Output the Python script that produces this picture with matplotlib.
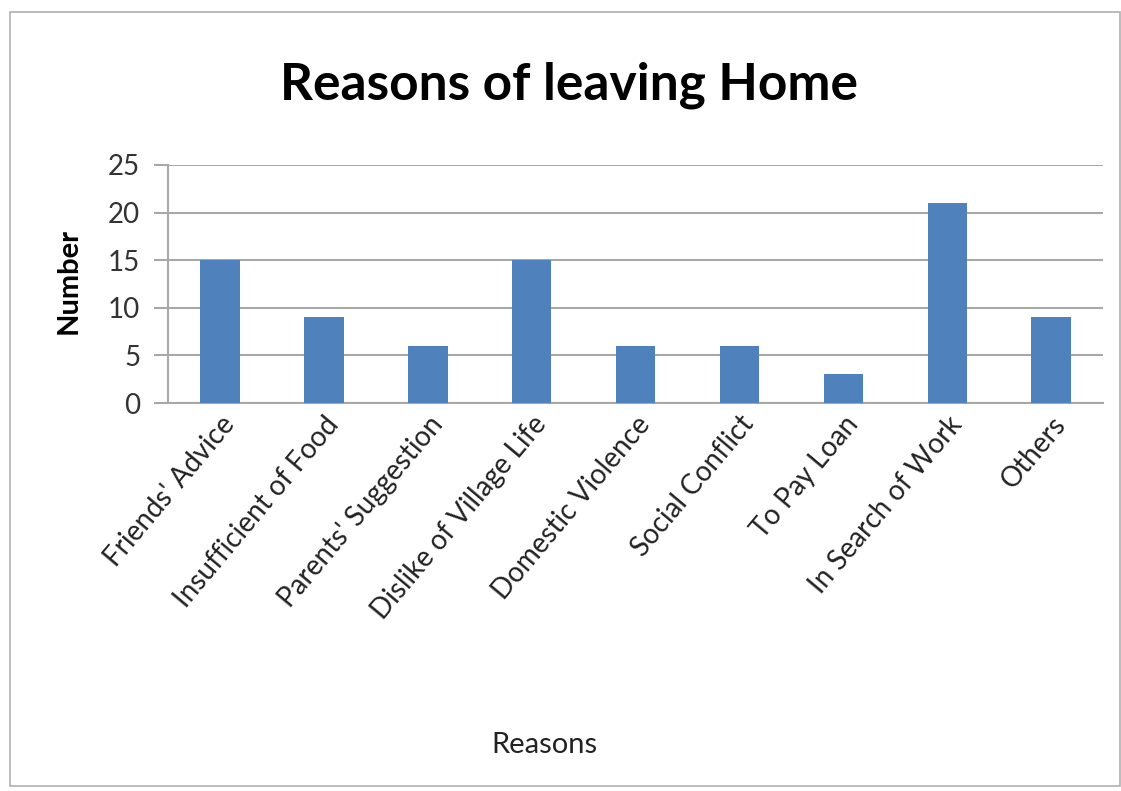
import matplotlib.pyplot as plt
from matplotlib.patches import Rectangle

reasons = ["Friends' Advice", "Insufficient of Food", "Parents' Suggestion",
           "Dislike of Village Life", "Domestic Violence", "Social Conflict",
           "To Pay Loan", "In Search of Work", "Others"]
numbers = [15, 9, 6, 15, 6, 6, 3, 21, 9]
y_ticks = [0, 5, 10, 15, 20, 25]

plt.rcParams['font.family'] = ['Lato', 'DejaVu Sans']

fig = plt.figure(figsize=(11.21, 7.91), dpi=100)
# outer chart border
fig.patches.append(Rectangle((10 / 1121, 5 / 791), 1 - 11 / 1121, 1 - 17 / 791,
                             transform=fig.transFigure, fill=False,
                             edgecolor='#b0b0b0', linewidth=1.2))

ax = fig.add_axes([0.150, 0.4905, 0.834, 0.301])
x = range(len(reasons))
ax.bar(x, numbers, width=0.38, color='#4f81bd', zorder=3)

ax.set_xlim(-0.5, len(reasons) - 0.5)
ax.set_ylim(0, 25)
ax.set_yticks(y_ticks)
ax.set_yticklabels([str(v) for v in y_ticks], fontsize=20, color='#333333')
ax.yaxis.grid(True, color='#a8a8a8', linewidth=1.5, zorder=0)
ax.tick_params(axis='y', length=10, width=1.5, color='#a8a8a8', pad=10)
ax.tick_params(axis='x', length=0, pad=6)
ax.set_xticks(list(x))
ax.set_xticklabels(reasons, rotation=50, ha='right', rotation_mode='anchor',
                   fontsize=20, color='#222222')

for s in ['top', 'right']:
    ax.spines[s].set_visible(False)
for s in ['left', 'bottom']:
    ax.spines[s].set_color('#a8a8a8')
    ax.spines[s].set_linewidth(1.5)

fig.text(0.061, 0.645, 'Number', fontsize=21, fontweight='bold', rotation=90,
         ha='center', va='center')
fig.text(0.486, 0.058, 'Reasons', fontsize=21, ha='center', va='center', color='#222222')
fig.text(0.508, 0.892, 'Reasons of leaving Home', fontsize=37, fontweight='bold',
         ha='center', va='center')

plt.savefig('out.png', dpi=100)
